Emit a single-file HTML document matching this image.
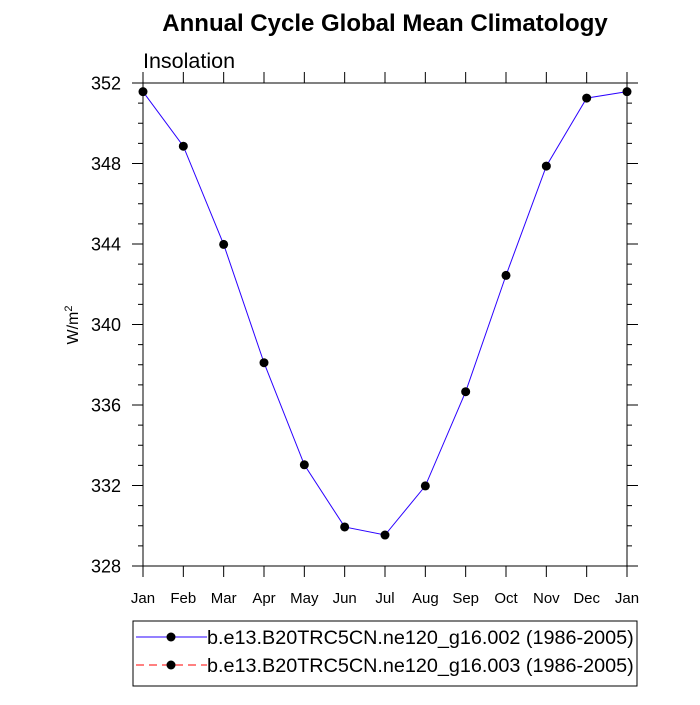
<!DOCTYPE html>
<html><head><meta charset="utf-8"><style>
body{margin:0;background:#fff}
svg{font-family:"Liberation Sans",sans-serif}
</style></head><body>
<svg width="700" height="700">
<text x="385" y="31" font-size="24" font-weight="bold" text-anchor="middle">Annual Cycle Global Mean Climatology</text>
<text x="143" y="68" font-size="21.5">Insolation</text>
<text transform="translate(78,325) rotate(-90)" font-size="16" text-anchor="middle">W/m<tspan dy="-6" font-size="11">2</tspan></text>
<g id="axes"></g>
<g id="series"></g>
<rect x="133" y="621" width="504" height="65" fill="none" stroke="#000" stroke-width="1"/>
<g>
<line x1="136" y1="637" x2="207" y2="637" stroke="#2a00ff" stroke-width="1"/>
<circle cx="171" cy="637" r="4.5" fill="#000"/>
<text x="207" y="644" font-size="19.8">b.e13.B20TRC5CN.ne120_g16.002 (1986-2005)</text>
</g>
<g>
<line x1="136" y1="665" x2="207" y2="665" stroke="#ff0000" stroke-width="1" stroke-dasharray="8,5"/>
<circle cx="171" cy="665" r="4.5" fill="#000"/>
<text x="207" y="672" font-size="19.8">b.e13.B20TRC5CN.ne120_g16.003 (1986-2005)</text>
</g>
</svg>
<script>
const months=["Jan","Feb","Mar","Apr","May","Jun","Jul","Aug","Sep","Oct","Nov","Dec","Jan"];
const insolation=[351.57,348.86,343.98,338.1,333.03,329.94,329.54,331.98,336.66,342.44,347.87,351.25,351.57];
const yTicks=[328,332,336,340,344,348,352];
const NS="http://www.w3.org/2000/svg";
const X0=143,X1=627,Y0=566,Y1=83,YMIN=328,YMAX=352;
const xs=i=>X0+i*(X1-X0)/(months.length-1);
const ys=v=>Y0-(v-YMIN)*(Y0-Y1)/(YMAX-YMIN);
function mk(tag,attrs,parent){const e=document.createElementNS(NS,tag);for(const k in attrs)e.setAttribute(k,attrs[k]);parent.appendChild(e);return e;}
const ax=document.getElementById('axes');
const frame=mk('rect',{x:X0,y:Y1,width:X1-X0,height:Y0-Y1,fill:'none',stroke:'#000','stroke-width':1},ax);


months.forEach((m,i)=>{
  const x=xs(i);
  mk('line',{x1:x,y1:Y0,x2:x,y2:Y0+11,stroke:'#000'},ax);
  mk('line',{x1:x,y1:Y1,x2:x,y2:Y1-11,stroke:'#000'},ax);
  const t=mk('text',{x:x,y:603,'font-size':15,'text-anchor':'middle'},ax);
  t.textContent=m;
  
  
});
for(let v=YMIN;v<=YMAX;v++){
  const y=ys(v);const major=(v-YMIN)%4===0;const L=major?11:5;
  mk('line',{x1:X0-L,y1:y,x2:X0,y2:y,stroke:'#000'},ax);
  mk('line',{x1:X1,y1:y,x2:X1+L,y2:y,stroke:'#000'},ax);
}
yTicks.forEach(v=>{
  const t=mk('text',{x:121,y:ys(v)+6.5,'font-size':18,'text-anchor':'end'},ax);
  t.textContent=v;
  
  
});
const s=document.getElementById('series');
const pl=mk('polyline',{points:insolation.map((v,i)=>xs(i)+','+ys(v)).join(' '),fill:'none',stroke:'#2a00ff','stroke-width':1},s);


insolation.forEach((v,i)=>{
  const c=mk('circle',{cx:xs(i),cy:ys(v),r:4.5,fill:'#000'},s);
  
  
});
</script>
</body></html>
